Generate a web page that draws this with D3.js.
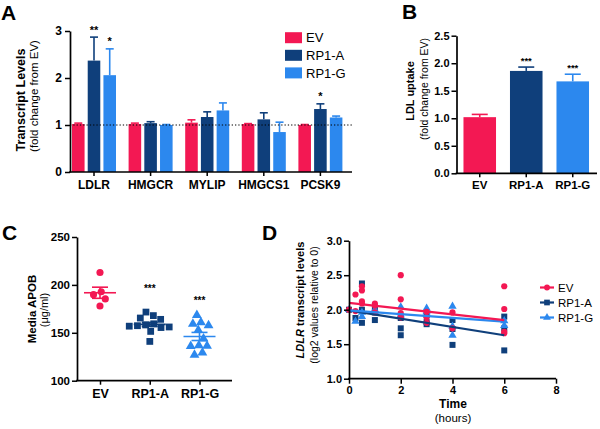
<!DOCTYPE html>
<html><head><meta charset="utf-8">
<script src="https://cdn.jsdelivr.net/npm/d3@7"></script>
<style>
body{margin:0;background:#fff}
svg text{font-family:"Liberation Sans",Arial,Helvetica,sans-serif;fill:#000}
</style>
</head><body>
<svg id="c" width="600" height="429"></svg>
<script>
// ---------- DATA ----------
const groups = ["EV", "RP1-A", "RP1-G"];
// Panel A
const genes = ["LDLR", "HMGCR", "MYLIP", "HMGCS1", "PCSK9"];
const aEV = [1.02, 1.02, 1.05, 1.02, 1.00];
const aRP1A = [2.37, 1.04, 1.17, 1.12, 1.34];
const aRP1G = [2.06, 1.00, 1.31, 0.85, 1.16];
const aEVerr = [0.02, 0.02, 0.06, 0.01, 0.01];
const aRP1Aerr = [0.50, 0.03, 0.11, 0.14, 0.11];
const aRP1Gerr = [0.56, 0.01, 0.16, 0.21, 0.03];
const aStars = [["LDLR", "RP1-A", "**"], ["LDLR", "RP1-G", "*"], ["PCSK9", "RP1-A", "*"]];
const aTicks = [0, 1, 2, 3];
// Panel B
const bValues = [1.02, 1.86, 1.67];
const bErr = [0.05, 0.07, 0.13];
const bStars = ["", "***", "***"];
const bTicks = [0, 0.5, 1, 1.5, 2, 2.5];
// Panel C
const cEV = [213, 192, 190, 186, 178];
const cRP1A = [170, 166, 165, 164, 160, 159, 158, 157, 157, 156, 152, 141];
const cRP1G = [168, 160, 159, 158, 154, 143, 137, 136, 136, 130, 127];
const cStars = ["", "***", "***"];
const cStarPos = [null, 198, 185.5];
const cTicks = [100, 150, 200, 250];
// Panel D
const dTimes = [0, 0.25, 0.5, 1, 2, 3, 4, 6];
const dEV = [[2.00], [2.22, 1.98], [2.34, 2.28, 2.12, 2.09], [2.09, 2.06, 1.96], [2.50, 2.15, 1.95, 1.89], [1.97, 1.89, 1.81], [1.96, 1.73], [2.34, 2.01, 1.68, 1.66]];
const dRP1A = [[2.00], [1.88], [2.38, 2.00, 1.81], [2.02, 1.96, 1.85], [1.88, 1.73, 1.63], [1.92, 1.82, 1.79], [1.85, 1.72, 1.49], [1.90, 1.73, 1.41]];
const dRP1G = [[2.00], [1.83], [1.96, 1.90], [2.00, 1.97], [2.04, 1.92], [2.02, 1.97], [2.05, 1.76, 1.63], [1.84, 1.77]];
const dIntercept = [2.10, 1.99, 1.99];
const dSlope = [-0.042, -0.060, -0.027];
const dFitRange = [0, 6];
const dXTicks = [0, 2, 4, 6, 8];
const dYTicks = [1.0, 1.5, 2.0, 2.5, 3.0];

// ---------- STYLE ----------
const COL = {"EV": "#F31853", "RP1-A": "#0F3F7B", "RP1-G": "#2C88EE"};
const svg = d3.select("#c");
svg.append("rect").attr("width", 600).attr("height", 429).attr("fill", "#fff");

function styleAxis(g, fs) {
  g.attr("font-family", null);
  g.select(".domain").attr("stroke", "#000").attr("stroke-width", 1.7);
  g.selectAll(".tick line").attr("stroke", "#000").attr("stroke-width", 1.5);
  g.selectAll(".tick text").attr("font-size", fs).attr("font-weight", "bold").attr("fill", "#000");
}
function hline(x0, x1, y) {
  svg.append("line").attr("x1", x0).attr("x2", x1).attr("y1", y).attr("y2", y)
    .attr("stroke", "#000").attr("stroke-width", 1.7);
}
function panelLabel(t, x, y) {
  svg.append("text").attr("x", x).attr("y", y).attr("font-size", 21).attr("font-weight", "bold").text(t);
}
function rotText(t, cx, cy, fs, bold) {
  const el = svg.append("text").attr("transform", `translate(${cx},${cy}) rotate(-90)`)
    .attr("text-anchor", "middle").attr("dominant-baseline", "central")
    .attr("font-size", fs).attr("font-weight", bold ? "bold" : "normal");
  if (typeof t === "string") el.text(t);
  else t.forEach(p => el.append("tspan").attr("font-style", p.italic ? "italic" : null).text(p.s));
  return el;
}
function errBar(g, x, y0, y1, half, color) {
  g.append("line").attr("x1", x).attr("x2", x).attr("y1", y0).attr("y2", y1).attr("stroke", color).attr("stroke-width", 1.6);
  g.append("line").attr("x1", x - half).attr("x2", x + half).attr("y1", y1).attr("y2", y1).attr("stroke", color).attr("stroke-width", 1.6);
}

// ---------- PANEL A ----------
(function () {
  const x0 = 70, x1 = 352, yBot = 172, yTop = 31;
  const y = d3.scaleLinear().domain([0, 3]).range([yBot, yTop]);
  const xg = d3.scaleBand().domain(genes).range([65.7, 348.7]);
  const xs = d3.scaleBand().domain(groups).range([-22, 22]).paddingInner(0.2);
  const vals = {"EV": aEV, "RP1-A": aRP1A, "RP1-G": aRP1G};
  const errs = {"EV": aEVerr, "RP1-A": aRP1Aerr, "RP1-G": aRP1Gerr};
  const g = svg.append("g");
  genes.forEach((gene, i) => {
    const cx = xg(gene) + xg.bandwidth() / 2;
    groups.forEach(s => {
      const bx = cx + xs(s);
      g.append("rect").attr("x", bx).attr("width", xs.bandwidth())
        .attr("y", y(vals[s][i])).attr("height", y(0) - y(vals[s][i])).attr("fill", COL[s]);
      errBar(g, bx + xs.bandwidth() / 2, y(vals[s][i]), y(vals[s][i] + errs[s][i]), 4, COL[s]);
    });
  });
  aStars.forEach(([gene, s, t]) => {
    const i = genes.indexOf(gene);
    const cx = xg(gene) + xg.bandwidth() / 2 + xs(s) + xs.bandwidth() / 2;
    svg.append("text").attr("x", cx).attr("y", y(vals[s][i] + errs[s][i]) - 3.5)
      .attr("text-anchor", "middle").attr("font-size", 11).attr("font-weight", "bold").text(t);
  });
  // dotted reference at 1
  svg.append("line").attr("x1", x0).attr("x2", x1).attr("y1", y(1)).attr("y2", y(1))
    .attr("stroke", "#000").attr("stroke-width", 1).attr("stroke-dasharray", "1.3,2");
  const ya = svg.append("g").attr("transform", `translate(${x0},0)`)
    .call(d3.axisLeft(y).tickValues(aTicks).tickFormat(d3.format("d")).tickSize(5).tickSizeOuter(0).tickPadding(3));
  styleAxis(ya, 12);
  hline(x0 - 0.85, x1, yBot);
  const xa = svg.append("g").attr("transform", `translate(0,${yBot})`)
    .call(d3.axisBottom(xg).tickSize(4).tickSizeOuter(0).tickPadding(4));
  xa.select(".domain").remove();
  styleAxis(xa, 12);
  rotText("Transcript Levels", 21, 100, 12.5, true);
  rotText("(fold change from EV)", 34, 96, 11.5, false);
  // legend
  groups.forEach((s, i) => {
    const cy = 37.7 + i * 17.6;
    svg.append("rect").attr("x", 285).attr("y", cy - 5.5).attr("width", 17).attr("height", 11).attr("fill", COL[s]);
    svg.append("text").attr("x", 306).attr("y", cy).attr("dy", "0.36em").attr("font-size", 13).text(s);
  });
  panelLabel("A", 1, 20);
})();

// ---------- PANEL B ----------
(function () {
  const x0 = 456.5, x1 = 597, yBot = 173.3, yTop = 35.7;
  const y = d3.scaleLinear().domain([0, 2.5]).range([yBot, yTop]);
  const x = d3.scaleBand().domain(groups).range([x0, 596]).paddingInner(0.3).paddingOuter(0.15);
  groups.forEach((s, i) => {
    svg.append("rect").attr("x", x(s)).attr("width", x.bandwidth())
      .attr("y", y(bValues[i])).attr("height", y(0) - y(bValues[i])).attr("fill", COL[s]);
    errBar(svg, x(s) + x.bandwidth() / 2, y(bValues[i]), y(bValues[i] + bErr[i]), 8, COL[s]);
    if (bStars[i]) svg.append("text").attr("x", x(s) + x.bandwidth() / 2).attr("y", y(bValues[i] + bErr[i]) - 3)
      .attr("text-anchor", "middle").attr("font-size", 9.5).attr("font-weight", "bold").text(bStars[i]);
  });
  const ya = svg.append("g").attr("transform", `translate(${x0},0)`)
    .call(d3.axisLeft(y).tickValues(bTicks).tickFormat(d3.format(".1f")).tickSize(5).tickSizeOuter(0).tickPadding(2));
  styleAxis(ya, 11);
  hline(x0 - 0.85, x1, yBot);
  const xa = svg.append("g").attr("transform", `translate(0,${yBot})`)
    .call(d3.axisBottom(x).tickSize(4).tickSizeOuter(0).tickPadding(4));
  xa.select(".domain").remove();
  styleAxis(xa, 11.5);
  rotText("LDL uptake", 410, 91, 11, true);
  rotText("(fold change from EV)", 423.5, 89, 10.5, false);
  panelLabel("B", 402, 19);
})();

// ---------- PANEL C ----------
(function () {
  const x0 = 77, x1 = 232, yBot = 380.7, yTop = 237;
  const y = d3.scaleLinear().domain([100, 250]).range([yBot, yTop]);
  const x = d3.scalePoint().domain(groups).range([100, 199.5]);
  const sets = {"EV": cEV, "RP1-A": cRP1A, "RP1-G": cRP1G};
  const shapes = {"EV": d3.symbolCircle, "RP1-A": d3.symbolSquare, "RP1-G": d3.symbolTriangle};
  const sizes = {"EV": 40, "RP1-A": 46, "RP1-G": 42};
  function swarm(vals, cx, r) {
    const nodes = vals.map((v, i) => ({v, x: cx + (i % 2 ? 1 : -1) * i * 0.4, y: y(v)}));
    d3.forceSimulation(nodes)
      .force("x", d3.forceX(cx).strength(0.06))
      .force("y", d3.forceY(d => y(d.v)).strength(0.9))
      .force("c", d3.forceCollide(r).iterations(3))
      .stop().tick(300);
    return nodes;
  }
  groups.forEach((s, i) => {
    const cx = x(s);
    const nodes = swarm(sets[s], cx, 4.1);
    svg.append("g").selectAll("path").data(nodes).join("path")
      .attr("transform", d => `translate(${d.x},${d.y})`)
      .attr("d", d3.symbol().type(shapes[s]).size(sizes[s])).attr("fill", COL[s]);
    const m = d3.mean(sets[s]);
    const sem = d3.deviation(sets[s]) / Math.sqrt(sets[s].length);
    const g = svg.append("g").attr("stroke", COL[s]).attr("stroke-width", 1.6);
    g.append("line").attr("x1", cx - 16).attr("x2", cx + 16).attr("y1", y(m)).attr("y2", y(m));
    g.append("line").attr("x1", cx).attr("x2", cx).attr("y1", y(m - sem)).attr("y2", y(m + sem));
    g.append("line").attr("x1", cx - 8).attr("x2", cx + 8).attr("y1", y(m - sem)).attr("y2", y(m - sem));
    g.append("line").attr("x1", cx - 8).attr("x2", cx + 8).attr("y1", y(m + sem)).attr("y2", y(m + sem));
    if (cStars[i]) svg.append("text").attr("x", cx).attr("y", y(cStarPos[i])).attr("dy", "0.55em")
      .attr("text-anchor", "middle").attr("font-size", 10).attr("font-weight", "bold").text(cStars[i]);
  });
  const ya = svg.append("g").attr("transform", `translate(${x0},0)`)
    .call(d3.axisLeft(y).tickValues(cTicks).tickFormat(d3.format("d")).tickSize(5).tickSizeOuter(0).tickPadding(2));
  styleAxis(ya, 11.5);
  hline(x0 - 0.85, x1, yBot);
  const xa = svg.append("g").attr("transform", `translate(0,${yBot})`)
    .call(d3.axisBottom(x).tickSize(4).tickSizeOuter(0).tickPadding(4));
  xa.select(".domain").remove();
  styleAxis(xa, 12.5);
  rotText("Media APOB", 31.5, 309, 11.5, true);
  rotText("(μg/ml)", 44, 310, 11, false);
  panelLabel("C", 2, 240);
})();

// ---------- PANEL D ----------
(function () {
  const x0 = 349, x1 = 556, yBot = 378.7, yTop = 240.7;
  const x = d3.scaleLinear().domain([0, 8]).range([x0, x1]);
  const y = d3.scaleLinear().domain([1, 3]).range([yBot, yTop]);
  const sets = {"EV": dEV, "RP1-A": dRP1A, "RP1-G": dRP1G};
  const shapes = {"EV": d3.symbolCircle, "RP1-A": d3.symbolSquare, "RP1-G": d3.symbolTriangle};
  const sizes = {"EV": 30, "RP1-A": 36, "RP1-G": 30};
  ["RP1-A", "RP1-G", "EV"].forEach(s => {
    const pts = [];
    dTimes.forEach((t, i) => sets[s][i].forEach(v => pts.push([t, v])));
    svg.append("g").selectAll("path").data(pts).join("path")
      .attr("transform", d => `translate(${x(d[0])},${y(d[1])})`)
      .attr("d", d3.symbol().type(shapes[s]).size(sizes[s])).attr("fill", COL[s]);
  });
  const line = d3.line().x(d => x(d[0])).y(d => y(d[1]));
  ["RP1-A", "RP1-G", "EV"].forEach(s => {
    const k = groups.indexOf(s);
    const fit = dFitRange.map(t => [t, dIntercept[k] + dSlope[k] * t]);
    svg.append("path").attr("d", line(fit)).attr("fill", "none").attr("stroke", COL[s]).attr("stroke-width", 2.2);
  });
  const ya = svg.append("g").attr("transform", `translate(${x0},0)`)
    .call(d3.axisLeft(y).tickValues(dYTicks).tickFormat(d3.format(".1f")).tickSize(5).tickSizeOuter(0).tickPadding(2));
  styleAxis(ya, 11);
  const xa = svg.append("g").attr("transform", `translate(0,${yBot})`)
    .call(d3.axisBottom(x).tickValues(dXTicks).tickFormat(d3.format("d")).tickSize(5).tickSizeOuter(0).tickPadding(3));
  styleAxis(xa, 11);
  xa.select(".domain").attr("d", `M${x0 - 0.85},0H${x1}`);
  svg.append("text").attr("x", 453).attr("y", 408).attr("text-anchor", "middle").attr("font-size", 12).attr("font-weight", "bold").text("Time");
  svg.append("text").attr("x", 453).attr("y", 422).attr("text-anchor", "middle").attr("font-size", 11.5).text("(hours)");
  rotText([{s: "LDLR", italic: true}, {s: " transcript levels"}], 300, 300, 11, true);
  rotText("(log2 values  relative to 0)", 314, 305, 10.5, false);
  groups.forEach((s, i) => {
    const cy = 287.5 + i * 15;
    svg.append("line").attr("x1", 540).attr("x2", 554).attr("y1", cy).attr("y2", cy).attr("stroke", COL[s]).attr("stroke-width", 2.2);
    svg.append("path").attr("transform", `translate(547,${cy})`).attr("d", d3.symbol().type(shapes[s]).size(sizes[s] * 0.9)).attr("fill", COL[s]);
    svg.append("text").attr("x", 558).attr("y", cy).attr("dy", "0.36em").attr("font-size", 11.5).text(s);
  });
  panelLabel("D", 262, 240);
})();
</script>
</body></html>
